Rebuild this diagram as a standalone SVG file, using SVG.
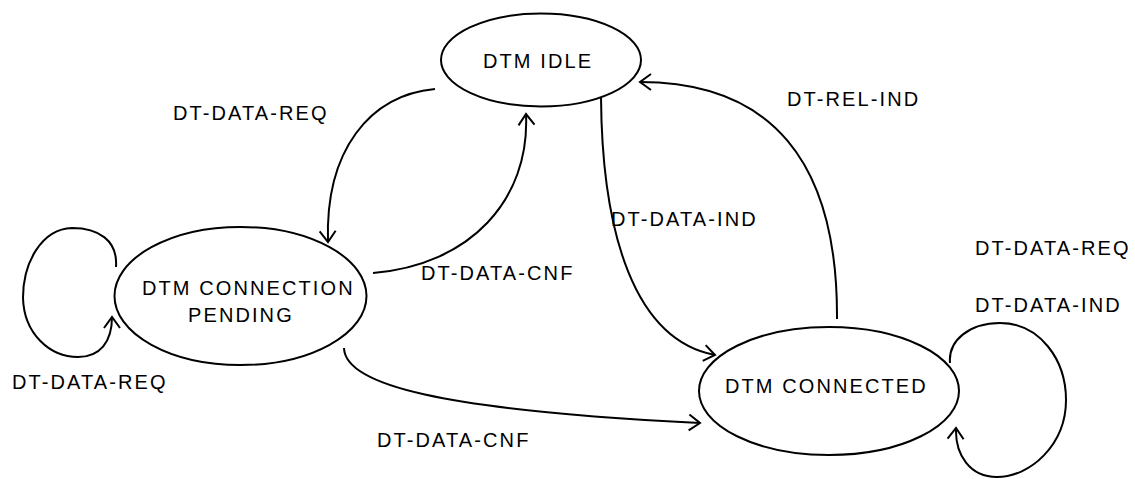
<svg xmlns="http://www.w3.org/2000/svg" width="1135" height="479" viewBox="0 0 1135 479">
  <style>
    .state { fill: #ffffff; stroke: #000000; stroke-width: 2; }
    .label { font-family: "Liberation Sans", Arial, sans-serif; font-size: 20px; letter-spacing: 2.1px; fill: #000000; }
    .edge { fill: none; stroke: #000000; stroke-width: 2; marker-end: url(#arrow); }
  </style>
  <defs>
    <marker id="arrow" markerUnits="userSpaceOnUse" markerWidth="16" markerHeight="20" refX="12" refY="9" orient="auto">
      <path d="M1,1 L12,9 L1,17" fill="none" stroke="#000000" stroke-width="2" stroke-linejoin="miter"/>
    </marker>
  </defs>

  <rect width="1135" height="479" fill="#ffffff"/>

  <!-- transitions -->
  <g id="connectors">
    <!-- idle -> pending -->
    <path class="edge" d="M435,89 C370,95 325,150 328,242"/>
    <!-- pending -> idle -->
    <path class="edge" d="M373,273 C470,265 530,200 526,114"/>
    <!-- idle -> connected -->
    <path class="edge" d="M601,97 C602,235 635,340 715,355"/>
    <!-- connected -> idle -->
    <path class="edge" d="M837,319 C838,160 770,82 640,82"/>
    <!-- pending -> connected -->
    <path class="edge" d="M344,348 C345,385 440,410 700,423"/>
    <!-- pending self loop -->
    <path class="edge" d="M116,267 C118,240 98,228 72,228 C42,229 23,262 23,298 C24,334 50,357 78,357 C100,357 112,342 112,317"/>
    <!-- connected self loop -->
    <path class="edge" d="M950,363 C948,340 970,323 1000,323 C1040,323 1066,360 1066,400 C1066,445 1030,477 997,477 C970,477 955,455 956,428"/>

    <text class="label" x="173" y="120">DT-DATA-REQ</text>
    <text class="label" x="421" y="280">DT-DATA-CNF</text>
    <text class="label" x="611" y="226">DT-DATA-IND</text>
    <text class="label" x="787" y="106">DT-REL-IND</text>
    <text class="label" x="377" y="447">DT-DATA-CNF</text>
    <text class="label" x="12" y="389">DT-DATA-REQ</text>
    <text class="label" x="975" y="255">DT-DATA-REQ</text>
    <text class="label" x="975" y="312">DT-DATA-IND</text>
  </g>

  <g id="dtm-idle">
    <ellipse class="state" cx="541" cy="60" rx="100" ry="46.5"/>
    <text class="label" x="483" y="68">DTM IDLE</text>
  </g>

  <g id="dtm-connection-pending">
    <ellipse class="state" cx="240.5" cy="296" rx="126" ry="69"/>
    <text class="label" x="142" y="295">DTM CONNECTION</text>
    <text class="label" x="188" y="322">PENDING</text>
  </g>

  <g id="dtm-connected">
    <ellipse class="state" cx="829" cy="391" rx="130" ry="64"/>
    <text class="label" x="725" y="393">DTM CONNECTED</text>
  </g>
</svg>
